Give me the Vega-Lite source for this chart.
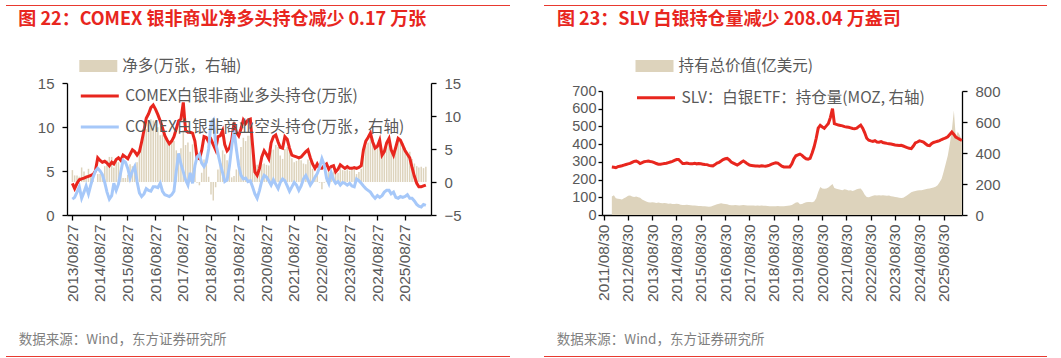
{
  "$schema": "https://vega.github.io/schema/vega-lite/v6.json",
  "padding": {"left": 6, "top": 5, "right": 0, "bottom": 0},
  "datasets": {
    "left": [
      {"d":"2013-09-01","l":3.6,"s":1.8,"n":1.8},{"d":"2013-10-01","l":3.0,"s":2.0,"n":1.0},{"d":"2013-11-01","l":3.6,"s":2.6,"n":1.0},{"d":"2013-12-01","l":4.0,"s":3.2,"n":0.8},
      {"d":"2014-01-01","l":4.1,"s":1.9,"n":2.2},{"d":"2014-02-01","l":4.2,"s":2.6,"n":1.6},{"d":"2014-03-01","l":4.3,"s":3.3,"n":1.0},{"d":"2014-04-01","l":4.4,"s":2.4,"n":2.0},
      {"d":"2014-05-01","l":4.5,"s":3.4,"n":1.1},{"d":"2014-06-01","l":4.6,"s":4.3,"n":0.3},{"d":"2014-07-01","l":5.0,"s":5.0,"n":0.0},{"d":"2014-08-01","l":6.5,"s":5.3,"n":1.2},
      {"d":"2014-09-01","l":6.2,"s":5.0,"n":1.2},{"d":"2014-10-01","l":6.0,"s":4.6,"n":1.4},{"d":"2014-11-01","l":6.1,"s":3.7,"n":2.4},{"d":"2014-12-01","l":5.9,"s":2.6,"n":3.3},
      {"d":"2015-01-01","l":5.6,"s":1.8,"n":3.8},{"d":"2015-02-01","l":6.0,"s":2.2,"n":3.8},{"d":"2015-03-01","l":5.8,"s":3.6,"n":2.2},{"d":"2015-04-01","l":6.3,"s":2.8,"n":3.5},
      {"d":"2015-05-01","l":6.5,"s":3.5,"n":3.0},{"d":"2015-06-01","l":6.2,"s":4.9,"n":1.3},{"d":"2015-07-01","l":6.8,"s":6.2,"n":0.6},{"d":"2015-08-01","l":6.6,"s":6.0,"n":0.6},
      {"d":"2015-09-01","l":6.4,"s":5.3,"n":1.1},{"d":"2015-10-01","l":6.9,"s":4.2,"n":2.7},{"d":"2015-11-01","l":7.4,"s":5.0,"n":2.4},{"d":"2015-12-01","l":7.2,"s":5.5,"n":1.7},
      {"d":"2016-01-01","l":6.8,"s":3.8,"n":3.0},{"d":"2016-02-01","l":7.2,"s":2.5,"n":4.7},{"d":"2016-03-01","l":8.3,"s":2.1,"n":6.2},{"d":"2016-04-01","l":9.6,"s":2.4,"n":7.2},
      {"d":"2016-05-01","l":11.0,"s":3.0,"n":8.0},{"d":"2016-06-01","l":11.5,"s":2.8,"n":8.7},{"d":"2016-07-01","l":12.2,"s":2.7,"n":9.5},{"d":"2016-08-01","l":12.5,"s":3.2,"n":9.3},
      {"d":"2016-09-01","l":12.0,"s":3.2,"n":8.8},{"d":"2016-10-01","l":11.4,"s":3.1,"n":8.3},{"d":"2016-11-01","l":10.7,"s":3.6,"n":7.1},{"d":"2016-12-01","l":9.9,"s":2.7,"n":7.2},
      {"d":"2017-01-01","l":9.0,"s":2.3,"n":6.7},{"d":"2017-02-01","l":8.5,"s":2.2,"n":6.3},{"d":"2017-03-01","l":8.1,"s":2.1,"n":6.0},{"d":"2017-04-01","l":8.4,"s":2.3,"n":6.1},
      {"d":"2017-05-01","l":8.9,"s":2.7,"n":6.2},{"d":"2017-06-01","l":9.8,"s":5.0,"n":4.8},{"d":"2017-07-01","l":10.7,"s":7.0,"n":3.7},{"d":"2017-08-01","l":10.9,"s":5.8,"n":5.1},
      {"d":"2017-09-01","l":12.8,"s":4.9,"n":7.9},{"d":"2017-10-01","l":9.6,"s":4.0,"n":5.6},{"d":"2017-11-01","l":9.4,"s":3.4,"n":6.0},{"d":"2017-12-01","l":9.4,"s":4.8,"n":4.6},
      {"d":"2018-01-01","l":9.3,"s":3.6,"n":5.7},{"d":"2018-02-01","l":8.4,"s":5.6,"n":2.8},{"d":"2018-03-01","l":6.5,"s":6.6,"n":-0.1},{"d":"2018-04-01","l":6.4,"s":6.9,"n":-0.5},
      {"d":"2018-05-01","l":7.3,"s":5.9,"n":1.4},{"d":"2018-06-01","l":8.9,"s":5.5,"n":3.4},{"d":"2018-07-01","l":8.8,"s":6.0,"n":2.8},{"d":"2018-08-01","l":8.3,"s":7.5,"n":0.8},
      {"d":"2018-09-01","l":8.6,"s":10.5,"n":-1.9},{"d":"2018-10-01","l":8.0,"s":10.8,"n":-2.8},{"d":"2018-11-01","l":7.4,"s":8.2,"n":-0.8},{"d":"2018-12-01","l":8.9,"s":7.0,"n":1.9},
      {"d":"2019-01-01","l":9.0,"s":5.8,"n":3.2},{"d":"2019-02-01","l":9.6,"s":4.8,"n":4.8},{"d":"2019-03-01","l":8.0,"s":3.8,"n":4.2},{"d":"2019-04-01","l":7.3,"s":4.0,"n":3.3},
      {"d":"2019-05-01","l":7.6,"s":5.5,"n":2.1},{"d":"2019-06-01","l":8.5,"s":7.8,"n":0.7},{"d":"2019-07-01","l":10.5,"s":9.6,"n":0.9},{"d":"2019-08-01","l":9.4,"s":7.5,"n":1.9},
      {"d":"2019-09-01","l":9.0,"s":5.6,"n":3.4},{"d":"2019-10-01","l":9.8,"s":4.5,"n":5.3},{"d":"2019-11-01","l":10.8,"s":4.1,"n":6.7},{"d":"2019-12-01","l":10.4,"s":4.2,"n":6.2},
      {"d":"2020-01-01","l":10.8,"s":3.8,"n":7.0},{"d":"2020-02-01","l":10.9,"s":3.9,"n":7.0},{"d":"2020-03-01","l":8.0,"s":3.2,"n":4.8},{"d":"2020-04-01","l":4.9,"s":2.4,"n":2.5},
      {"d":"2020-05-01","l":4.5,"s":1.9,"n":2.6},{"d":"2020-06-01","l":5.3,"s":2.8,"n":2.5},{"d":"2020-07-01","l":6.6,"s":3.9,"n":2.7},{"d":"2020-08-01","l":7.3,"s":4.5,"n":2.8},
      {"d":"2020-09-01","l":6.9,"s":4.3,"n":2.6},{"d":"2020-10-01","l":6.4,"s":3.9,"n":2.5},{"d":"2020-11-01","l":8.2,"s":3.4,"n":4.8},{"d":"2020-12-01","l":8.9,"s":4.0,"n":4.9},
      {"d":"2021-01-01","l":9.1,"s":3.5,"n":5.6},{"d":"2021-02-01","l":8.3,"s":3.0,"n":5.3},{"d":"2021-03-01","l":7.7,"s":3.7,"n":4.0},{"d":"2021-04-01","l":7.6,"s":4.1,"n":3.5},
      {"d":"2021-05-01","l":8.9,"s":3.9,"n":5.0},{"d":"2021-06-01","l":8.6,"s":3.3,"n":5.3},{"d":"2021-07-01","l":7.6,"s":2.7,"n":4.9},{"d":"2021-08-01","l":6.8,"s":3.2,"n":3.6},
      {"d":"2021-09-01","l":6.7,"s":3.7,"n":3.0},{"d":"2021-10-01","l":6.6,"s":3.4,"n":3.2},{"d":"2021-11-01","l":6.5,"s":2.8,"n":3.7},{"d":"2021-12-01","l":6.6,"s":3.3,"n":3.3},
      {"d":"2022-01-01","l":6.9,"s":4.1,"n":2.8},{"d":"2022-02-01","l":7.2,"s":4.5,"n":2.7},{"d":"2022-03-01","l":7.4,"s":4.0,"n":3.4},{"d":"2022-04-01","l":6.5,"s":3.4,"n":3.1},
      {"d":"2022-05-01","l":5.8,"s":3.8,"n":2.0},{"d":"2022-06-01","l":5.3,"s":4.3,"n":1.0},{"d":"2022-07-01","l":5.8,"s":4.7,"n":1.1},{"d":"2022-08-01","l":5.3,"s":5.4,"n":-0.1},
      {"d":"2022-09-01","l":5.3,"s":6.4,"n":-1.1},{"d":"2022-10-01","l":5.6,"s":5.7,"n":-0.1},{"d":"2022-11-01","l":5.8,"s":4.2,"n":1.6},{"d":"2022-12-01","l":5.2,"s":3.6,"n":1.6},
      {"d":"2023-01-01","l":5.5,"s":4.8,"n":0.7},{"d":"2023-02-01","l":5.6,"s":4.0,"n":1.6},{"d":"2023-03-01","l":4.9,"s":3.6,"n":1.3},{"d":"2023-04-01","l":5.2,"s":3.8,"n":1.4},
      {"d":"2023-05-01","l":5.7,"s":3.4,"n":2.3},{"d":"2023-06-01","l":5.5,"s":3.7,"n":1.8},{"d":"2023-07-01","l":5.3,"s":3.6,"n":1.7},{"d":"2023-08-01","l":5.5,"s":3.4,"n":2.1},
      {"d":"2023-09-01","l":5.3,"s":3.6,"n":1.7},{"d":"2023-10-01","l":5.3,"s":3.3,"n":2.0},{"d":"2023-11-01","l":5.4,"s":3.2,"n":2.2},{"d":"2023-12-01","l":5.3,"s":4.1,"n":1.2},
      {"d":"2024-01-01","l":5.4,"s":3.9,"n":1.5},{"d":"2024-02-01","l":5.6,"s":3.6,"n":2.0},{"d":"2024-03-01","l":7.4,"s":3.3,"n":4.1},{"d":"2024-04-01","l":8.4,"s":3.0,"n":5.4},
      {"d":"2024-05-01","l":8.8,"s":2.8,"n":6.0},{"d":"2024-06-01","l":9.3,"s":2.6,"n":6.7},{"d":"2024-07-01","l":8.3,"s":2.2,"n":6.1},{"d":"2024-08-01","l":7.6,"s":1.9,"n":5.7},
      {"d":"2024-09-01","l":7.8,"s":2.2,"n":5.6},{"d":"2024-10-01","l":8.5,"s":2.0,"n":6.5},{"d":"2024-11-01","l":6.8,"s":2.2,"n":4.6},{"d":"2024-12-01","l":7.2,"s":2.6,"n":4.6},
      {"d":"2025-01-01","l":8.2,"s":2.8,"n":5.4},{"d":"2025-02-01","l":8.7,"s":2.8,"n":5.9},{"d":"2025-03-01","l":7.4,"s":2.4,"n":5.0},{"d":"2025-04-01","l":6.8,"s":2.6,"n":4.2},
      {"d":"2025-05-01","l":7.7,"s":2.0,"n":5.7},{"d":"2025-06-01","l":8.7,"s":1.9,"n":6.8},{"d":"2025-07-01","l":8.5,"s":2.1,"n":6.4},{"d":"2025-08-01","l":7.9,"s":2.0,"n":5.9},
      {"d":"2025-09-01","l":7.3,"s":2.1,"n":5.2},{"d":"2025-10-01","l":6.9,"s":2.3,"n":4.6},{"d":"2025-11-01","l":6.5,"s":1.9,"n":4.6},{"d":"2025-12-01","l":5.4,"s":1.9,"n":3.5},
      {"d":"2026-01-01","l":4.4,"s":1.6,"n":2.8},{"d":"2026-02-01","l":3.6,"s":1.2,"n":2.4},{"d":"2026-03-01","l":3.2,"s":1.0,"n":2.2},{"d":"2026-04-01","l":3.2,"s":0.9,"n":2.3},
      {"d":"2026-05-01","l":3.3,"s":1.2,"n":2.1},{"d":"2026-06-01","l":3.4,"s":1.1,"n":2.3}
    ],
    "right": [
      {"d":"2012-01-01","v":105,"m":310},{"d":"2012-02-01","v":111,"m":308},{"d":"2012-03-01","v":95,"m":305},{"d":"2012-04-01","v":92,"m":312},
      {"d":"2012-05-01","v":90,"m":315},{"d":"2012-06-01","v":88,"m":318},{"d":"2012-07-01","v":95,"m":322},{"d":"2012-08-01","v":100,"m":326},
      {"d":"2012-09-01","v":108,"m":330},{"d":"2012-10-01","v":110,"m":333},{"d":"2012-11-01","v":104,"m":340},{"d":"2012-12-01","v":102,"m":346},
      {"d":"2013-01-01","v":105,"m":348},{"d":"2013-02-01","v":100,"m":342},{"d":"2013-03-01","v":98,"m":332},{"d":"2013-04-01","v":88,"m":338},
      {"d":"2013-05-01","v":82,"m":344},{"d":"2013-06-01","v":76,"m":346},{"d":"2013-07-01","v":72,"m":348},{"d":"2013-08-01","v":70,"m":345},
      {"d":"2013-09-01","v":72,"m":343},{"d":"2013-10-01","v":70,"m":338},{"d":"2013-11-01","v":68,"m":332},{"d":"2013-12-01","v":70,"m":328},
      {"d":"2014-01-01","v":68,"m":327},{"d":"2014-02-01","v":66,"m":330},{"d":"2014-03-01","v":68,"m":332},{"d":"2014-04-01","v":66,"m":334},
      {"d":"2014-05-01","v":64,"m":338},{"d":"2014-06-01","v":65,"m":342},{"d":"2014-07-01","v":62,"m":346},{"d":"2014-08-01","v":62,"m":352},
      {"d":"2014-09-01","v":64,"m":358},{"d":"2014-10-01","v":62,"m":358},{"d":"2014-11-01","v":58,"m":345},{"d":"2014-12-01","v":57,"m":332},
      {"d":"2015-01-01","v":56,"m":333},{"d":"2015-02-01","v":58,"m":335},{"d":"2015-03-01","v":56,"m":332},{"d":"2015-04-01","v":55,"m":330},
      {"d":"2015-05-01","v":54,"m":331},{"d":"2015-06-01","v":53,"m":333},{"d":"2015-07-01","v":52,"m":330},{"d":"2015-08-01","v":51,"m":332},
      {"d":"2015-09-01","v":51,"m":330},{"d":"2015-10-01","v":50,"m":328},{"d":"2015-11-01","v":49,"m":326},{"d":"2015-12-01","v":48,"m":325},
      {"d":"2016-01-01","v":47,"m":320},{"d":"2016-02-01","v":48,"m":318},{"d":"2016-03-01","v":52,"m":317},{"d":"2016-04-01","v":56,"m":325},
      {"d":"2016-05-01","v":60,"m":335},{"d":"2016-06-01","v":64,"m":340},{"d":"2016-07-01","v":66,"m":348},{"d":"2016-08-01","v":64,"m":358},
      {"d":"2016-09-01","v":62,"m":363},{"d":"2016-10-01","v":60,"m":365},{"d":"2016-11-01","v":57,"m":355},{"d":"2016-12-01","v":55,"m":342},
      {"d":"2017-01-01","v":55,"m":335},{"d":"2017-02-01","v":56,"m":328},{"d":"2017-03-01","v":55,"m":322},{"d":"2017-04-01","v":54,"m":330},
      {"d":"2017-05-01","v":55,"m":340},{"d":"2017-06-01","v":56,"m":348},{"d":"2017-07-01","v":55,"m":340},{"d":"2017-08-01","v":54,"m":330},
      {"d":"2017-09-01","v":53,"m":322},{"d":"2017-10-01","v":54,"m":320},{"d":"2017-11-01","v":53,"m":318},{"d":"2017-12-01","v":52,"m":316},
      {"d":"2018-01-01","v":53,"m":316},{"d":"2018-02-01","v":52,"m":315},{"d":"2018-03-01","v":53,"m":318},{"d":"2018-04-01","v":52,"m":316},
      {"d":"2018-05-01","v":52,"m":315},{"d":"2018-06-01","v":51,"m":318},{"d":"2018-07-01","v":50,"m":322},{"d":"2018-08-01","v":50,"m":328},
      {"d":"2018-09-01","v":49,"m":333},{"d":"2018-10-01","v":50,"m":337},{"d":"2018-11-01","v":51,"m":335},{"d":"2018-12-01","v":50,"m":325},
      {"d":"2019-01-01","v":49,"m":315},{"d":"2019-02-01","v":50,"m":310},{"d":"2019-03-01","v":51,"m":309},{"d":"2019-04-01","v":52,"m":310},
      {"d":"2019-05-01","v":53,"m":310},{"d":"2019-06-01","v":56,"m":330},{"d":"2019-07-01","v":64,"m":361},{"d":"2019-08-01","v":70,"m":382},
      {"d":"2019-09-01","v":72,"m":388},{"d":"2019-10-01","v":60,"m":393},{"d":"2019-11-01","v":62,"m":385},{"d":"2019-12-01","v":68,"m":372},
      {"d":"2020-01-01","v":72,"m":363},{"d":"2020-02-01","v":73,"m":360},{"d":"2020-03-01","v":74,"m":365},{"d":"2020-04-01","v":72,"m":400},
      {"d":"2020-05-01","v":76,"m":440},{"d":"2020-06-01","v":95,"m":495},{"d":"2020-07-01","v":130,"m":560},{"d":"2020-08-01","v":158,"m":578},
      {"d":"2020-09-01","v":150,"m":568},{"d":"2020-10-01","v":148,"m":560},{"d":"2020-11-01","v":150,"m":575},{"d":"2020-12-01","v":155,"m":590},
      {"d":"2021-01-01","v":165,"m":630},{"d":"2021-02-01","v":175,"m":686},{"d":"2021-03-01","v":152,"m":590},{"d":"2021-04-01","v":148,"m":585},
      {"d":"2021-05-01","v":145,"m":580},{"d":"2021-06-01","v":142,"m":578},{"d":"2021-07-01","v":140,"m":575},{"d":"2021-08-01","v":145,"m":570},
      {"d":"2021-09-01","v":142,"m":568},{"d":"2021-10-01","v":138,"m":566},{"d":"2021-11-01","v":140,"m":562},{"d":"2021-12-01","v":136,"m":558},
      {"d":"2022-01-01","v":140,"m":556},{"d":"2022-02-01","v":145,"m":560},{"d":"2022-03-01","v":148,"m":570},{"d":"2022-04-01","v":150,"m":580},
      {"d":"2022-05-01","v":135,"m":560},{"d":"2022-06-01","v":115,"m":530},{"d":"2022-07-01","v":102,"m":495},{"d":"2022-08-01","v":100,"m":482},
      {"d":"2022-09-01","v":104,"m":478},{"d":"2022-10-01","v":108,"m":475},{"d":"2022-11-01","v":112,"m":480},{"d":"2022-12-01","v":110,"m":471},
      {"d":"2023-01-01","v":112,"m":470},{"d":"2023-02-01","v":110,"m":474},{"d":"2023-03-01","v":112,"m":468},{"d":"2023-04-01","v":110,"m":465},
      {"d":"2023-05-01","v":108,"m":462},{"d":"2023-06-01","v":110,"m":460},{"d":"2023-07-01","v":106,"m":458},{"d":"2023-08-01","v":104,"m":455},
      {"d":"2023-09-01","v":102,"m":452},{"d":"2023-10-01","v":100,"m":450},{"d":"2023-11-01","v":98,"m":448},{"d":"2023-12-01","v":96,"m":450},
      {"d":"2024-01-01","v":98,"m":445},{"d":"2024-02-01","v":104,"m":440},{"d":"2024-03-01","v":112,"m":435},{"d":"2024-04-01","v":120,"m":430},
      {"d":"2024-05-01","v":128,"m":428},{"d":"2024-06-01","v":132,"m":445},{"d":"2024-07-01","v":135,"m":465},{"d":"2024-08-01","v":138,"m":471},
      {"d":"2024-09-01","v":140,"m":478},{"d":"2024-10-01","v":140,"m":475},{"d":"2024-11-01","v":142,"m":470},{"d":"2024-12-01","v":145,"m":460},
      {"d":"2025-01-01","v":148,"m":450},{"d":"2025-02-01","v":150,"m":448},{"d":"2025-03-01","v":152,"m":460},{"d":"2025-04-01","v":155,"m":468},
      {"d":"2025-05-01","v":160,"m":472},{"d":"2025-06-01","v":168,"m":476},{"d":"2025-07-01","v":185,"m":480},{"d":"2025-08-01","v":205,"m":487},
      {"d":"2025-09-01","v":245,"m":492},{"d":"2025-10-01","v":290,"m":498},{"d":"2025-11-01","v":335,"m":505},{"d":"2025-12-01","v":400,"m":520},
      {"d":"2026-01-01","v":480,"m":535},{"d":"2026-02-01","v":590,"m":520},{"d":"2026-03-01","v":440,"m":503},{"d":"2026-04-01","v":470,"m":495},
      {"d":"2026-05-01","v":450,"m":488},{"d":"2026-06-01","v":420,"m":482}
    ]
  },
  "columns": 2,
  "align": "none",
  "spacing": 34,
  "resolve": {"scale": {"fill": "independent", "stroke": "independent"}},
  "concat": [
    {
      "columns": 1,
      "align": "none",
      "spacing": 4,
      "resolve": {"scale": {"fill": "independent", "stroke": "independent"}},
      "concat": [
        {"width": 504, "height": 1, "data": {"values": []}, "mark": "rule", "encoding": {}, "view": {"fill": "#E8392F", "stroke": null}},
        {
          "columns": 1,
          "align": "none",
          "spacing": 9,
          "resolve": {"scale": {"fill": "independent", "stroke": "independent"}},
          "concat": [
            {
              "columns": 2,
              "align": "none",
              "spacing": 0,
              "resolve": {"scale": {"fill": "independent", "stroke": "independent"}},
              "concat": [
                {"width": 12, "height": 1, "data": {"values": []}, "mark": "rule", "encoding": {}},
                {
                  "width": 364,
                  "height": 132,
                  "data": {"name": "left"},
                  "title": {"text": "图 22：COMEX 银非商业净多头持仓减少 0.17 万张", "anchor": "start", "frame": "group", "dx": -48.7, "offset": 10, "baseline": "bottom"},
                  "encoding": {
                    "x": {
                      "field": "d", "type": "temporal",
                      "scale": {"type": "utc", "domain": [{"year": 2013, "month": 8, "date": 27, "utc": true}, {"year": 2026, "month": 6, "date": 3, "utc": true}]},
                      "axis": {
                        "values": [
                          {"year": 2013, "month": 8, "date": 27, "utc": true}, {"year": 2014, "month": 8, "date": 27, "utc": true},
                          {"year": 2015, "month": 8, "date": 27, "utc": true}, {"year": 2016, "month": 8, "date": 27, "utc": true},
                          {"year": 2017, "month": 8, "date": 27, "utc": true}, {"year": 2018, "month": 8, "date": 27, "utc": true},
                          {"year": 2019, "month": 8, "date": 27, "utc": true}, {"year": 2020, "month": 8, "date": 27, "utc": true},
                          {"year": 2021, "month": 8, "date": 27, "utc": true}, {"year": 2022, "month": 8, "date": 27, "utc": true},
                          {"year": 2023, "month": 8, "date": 27, "utc": true}, {"year": 2024, "month": 8, "date": 27, "utc": true},
                          {"year": 2025, "month": 8, "date": 27, "utc": true}
                        ],
                        "labelExpr": "utcFormat(datum.value, '%Y/%m/%d')",
                        "labelAngle": -90, "labelFlush": false, "labelOverlap": false, "labelPadding": 4, "labelFontSize": 15.5,
                        "title": "数据来源：Wind，东方证券研究所",
                        "titleX": -48.7, "titleY": 128.7, "titleAlign": "left", "titleAnchor": "start", "titleBaseline": "alphabetic"
                      }
                    }
                  },
                  "layer": [
                    {
                      "mark": {"type": "bar", "size": 1.5},
                      "encoding": {
                        "y": {"field": "n", "type": "quantitative", "scale": {"domain": [-5, 15], "nice": false}, "axis": {"orient": "right", "values": [-5, 0, 5, 10, 15], "title": null}},
                        "fill": {
                          "datum": "净多(万张，右轴)",
                          "scale": {"range": ["#DDD3BC"]},
                          "legend": {"orient": "none", "legendX": 21.8, "legendY": -26.5, "title": null, "symbolType": "M-2,-0.63H2V0.63H-2Z", "symbolSize": 361, "symbolStrokeWidth": 0, "symbolOffset": 0, "labelOffset": 14.5, "padding": 0}
                        }
                      }
                    },
                    {
                      "transform": [{"fold": ["l", "s"], "as": ["k", "v"]}],
                      "mark": {"type": "line", "strokeWidth": 3},
                      "encoding": {
                        "y": {"field": "v", "type": "quantitative", "scale": {"domain": [0, 15], "nice": false}, "axis": {"orient": "left", "values": [0, 5, 10, 15], "title": null}},
                        "stroke": {
                          "field": "k", "type": "nominal",
                          "scale": {"domain": ["l", "s"], "range": ["#E8261E", "#A6C8F9"]},
                          "legend": {"orient": "none", "legendX": 21.8, "legendY": 2, "title": null, "symbolType": "M-2,0H2", "symbolSize": 361, "symbolStrokeWidth": 3, "symbolOffset": 0, "labelOffset": 14.5, "rowPadding": 11, "padding": 0,
                            "labelExpr": "datum.label === 'l' ? 'COMEX白银非商业多头持仓(万张)' : 'COMEX白银非商业空头持仓(万张，右轴)'"}
                        }
                      }
                    }
                  ],
                  "resolve": {"scale": {"y": "independent"}}
                }
              ]
            },
            {"width": 504, "height": 1, "data": {"values": []}, "mark": "rule", "encoding": {}, "view": {"fill": "#E8392F", "stroke": null}}
          ]
        }
      ]
    },
    {
      "columns": 1,
      "align": "none",
      "spacing": 4,
      "resolve": {"scale": {"fill": "independent", "stroke": "independent"}},
      "concat": [
        {"width": 503, "height": 1, "data": {"values": []}, "mark": "rule", "encoding": {}, "view": {"fill": "#E8392F", "stroke": null}},
        {
          "columns": 1,
          "align": "none",
          "spacing": 9,
          "resolve": {"scale": {"fill": "independent", "stroke": "independent"}},
          "concat": [
            {
              "columns": 2,
              "align": "none",
              "spacing": 0,
              "resolve": {"scale": {"fill": "independent", "stroke": "independent"}},
              "concat": [
                {"width": 12, "height": 1, "data": {"values": []}, "mark": "rule", "encoding": {}},
                {
                  "width": 360,
                  "height": 124,
                  "data": {"name": "right"},
                  "title": {"text": "图 23：SLV 白银持仓量减少 208.04 万盎司", "anchor": "start", "frame": "group", "dx": -45, "offset": 10, "baseline": "bottom"},
                  "encoding": {
                    "x": {
                      "field": "d", "type": "temporal",
                      "scale": {"type": "utc", "domain": [{"year": 2011, "month": 8, "date": 6, "utc": true}, {"year": 2026, "month": 6, "date": 3, "utc": true}]},
                      "axis": {
                        "values": [
                          {"year": 2011, "month": 8, "date": 30, "utc": true}, {"year": 2012, "month": 8, "date": 30, "utc": true},
                          {"year": 2013, "month": 8, "date": 30, "utc": true}, {"year": 2014, "month": 8, "date": 30, "utc": true},
                          {"year": 2015, "month": 8, "date": 30, "utc": true}, {"year": 2016, "month": 8, "date": 30, "utc": true},
                          {"year": 2017, "month": 8, "date": 30, "utc": true}, {"year": 2018, "month": 8, "date": 30, "utc": true},
                          {"year": 2019, "month": 8, "date": 30, "utc": true}, {"year": 2020, "month": 8, "date": 30, "utc": true},
                          {"year": 2021, "month": 8, "date": 30, "utc": true}, {"year": 2022, "month": 8, "date": 30, "utc": true},
                          {"year": 2023, "month": 8, "date": 30, "utc": true}, {"year": 2024, "month": 8, "date": 30, "utc": true},
                          {"year": 2025, "month": 8, "date": 30, "utc": true}
                        ],
                        "labelExpr": "utcFormat(datum.value, '%Y/%m/%d')",
                        "labelAngle": -90, "labelFlush": false, "labelOverlap": false, "labelPadding": 4, "labelFontSize": 15.5,
                        "title": "数据来源：Wind，东方证券研究所",
                        "titleX": -45.7, "titleY": 128.7, "titleAlign": "left", "titleAnchor": "start", "titleBaseline": "alphabetic"
                      }
                    }
                  },
                  "layer": [
                    {
                      "mark": {"type": "area"},
                      "encoding": {
                        "y": {"field": "v", "type": "quantitative", "scale": {"domain": [0, 700], "nice": false}, "axis": {"orient": "left", "values": [0, 100, 200, 300, 400, 500, 600, 700], "title": null, "labelPadding": 2, "tickSize": 4, "labelFontSize": 14.5}},
                        "fill": {
                          "datum": "持有总价值(亿美元)",
                          "scale": {"range": ["#DDD3BC"]},
                          "legend": {"orient": "none", "legendX": 43, "legendY": -34.5, "title": null, "symbolType": "M-2,-0.63H2V0.63H-2Z", "symbolSize": 361, "symbolStrokeWidth": 0, "symbolOffset": 0, "labelOffset": 14.6, "padding": 0}
                        }
                      }
                    },
                    {
                      "mark": {"type": "line", "strokeWidth": 3},
                      "encoding": {
                        "y": {"field": "m", "type": "quantitative", "scale": {"domain": [0, 800], "nice": false}, "axis": {"orient": "right", "values": [0, 200, 400, 600, 800], "title": null}},
                        "stroke": {
                          "datum": "SLV：白银ETF：持仓量(MOZ, 右轴)",
                          "scale": {"range": ["#E8261E"]},
                          "legend": {"orient": "none", "legendX": 43, "legendY": -4.2, "title": null, "symbolType": "M-2,0H2", "symbolSize": 361, "symbolStrokeWidth": 3, "symbolOffset": 0, "labelOffset": 14.6, "padding": 0}
                        }
                      }
                    }
                  ],
                  "resolve": {"scale": {"y": "independent"}}
                }
              ]
            },
            {"width": 503, "height": 1, "data": {"values": []}, "mark": "rule", "encoding": {}, "view": {"fill": "#E8392F", "stroke": null}}
          ]
        }
      ]
    }
  ],
  "config": {
    "font": "Noto Sans CJK SC",
    "view": {"stroke": null},
    "axis": {
      "domainColor": "#000000", "domainWidth": 1.3, "tickColor": "#000000", "tickWidth": 1.3, "tickSize": 5,
      "labelFont": "Liberation Sans", "labelColor": "#595959", "labelFontSize": 15, "labelPadding": 8, "grid": false,
      "titleFontSize": 13.5, "titleColor": "#7F7F7F", "titleFontWeight": "normal"
    },
    "legend": {"labelFontSize": 15.5, "labelColor": "#595959", "labelLimit": 600},
    "title": {"color": "#E8261E", "fontSize": 18, "fontWeight": "bold"}
  }
}
